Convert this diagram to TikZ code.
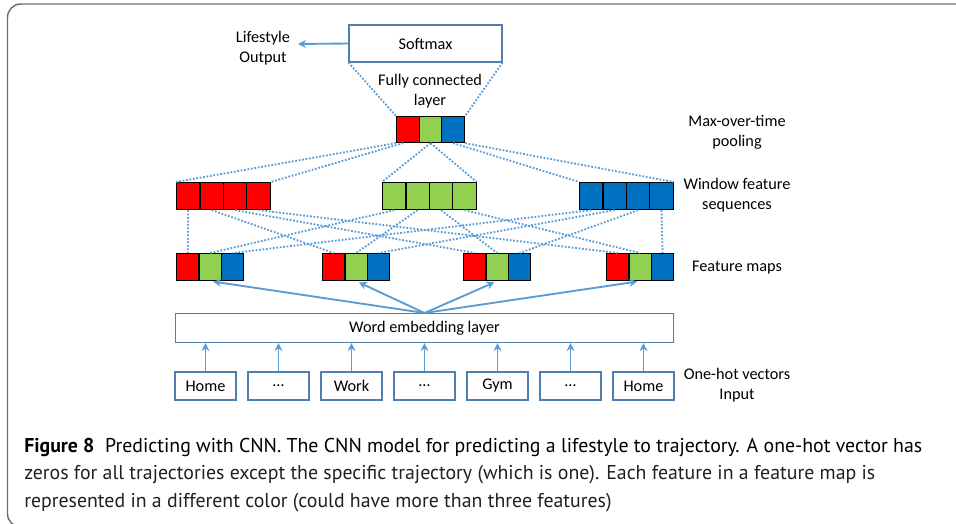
\documentclass[tikz,border=0pt]{standalone}
\usepackage{fontspec}
\usepackage{graphicx}
\setmainfont{Carlito}
\newfontfamily\capfont{PT Sans}
\usetikzlibrary{arrows.meta,calc}
\definecolor{cred}{HTML}{FF0000}
\definecolor{cgreen}{HTML}{92D050}
\definecolor{cblue}{HTML}{0070C0}
\definecolor{conn}{HTML}{5B9BD5}
\definecolor{boxb}{HTML}{4F7FB0}
\definecolor{framec}{HTML}{6E6E6E}
\definecolor{captext}{HTML}{231F20}
\newsavebox\caponebox
\newlength\caponelen
\tikzset{
  lbl/.style={font=\fontsize{12.2}{15}\selectfont, align=center, inner sep=0pt},
  cellA/.style={draw=black, line width=0.85pt, inner sep=0pt, anchor=north west},
  fmcell/.style={cellA, minimum width=16.8pt, minimum height=20.25pt},
  wcell/.style={cellA, minimum width=17.55pt, minimum height=20.25pt},
  pcell/.style={cellA, minimum width=17pt, minimum height=19.5pt},
  wbox/.style={draw=boxb, line width=0.8pt, inner sep=0pt, font=\fontsize{12.2}{15}\selectfont},
  dots/.style={conn, line width=1.4pt, dash pattern=on 1.3pt off 1.3pt},
  arr/.style={conn, line width=1.4pt, -{Stealth[length=6pt,width=6pt]}},
  capline/.style={anchor=base west, inner sep=0pt, text=captext}
}
\begin{document}
\sbox\caponebox{\capfont\fontsize{15}{21}\selectfont\textbf{Figure 8}\hspace{0.55em}Predicting with CNN. The CNN model for predicting a lifestyle to trajectory. A one-hot vector has}%
\setlength\caponelen{\wd\caponebox}%
\pgfmathsetmacro\capsf{673.5/\caponelen}%
\begin{tikzpicture}[x=0.75pt,y=-0.75pt]
\useasboundingbox (0,0) rectangle (956,524);
% frame
\draw[framec, line width=1.1pt, rounded corners=10pt] (970,4) -- (7.5,4) -- (7.5,527) -- (970,527);

% softmax and output
\node[wbox, minimum width=114.75pt, minimum height=27.75pt] (sm) at (425.5,43.5) {Softmax};
\node[lbl] (out) at (263,48) {Lifestyle\\Output};
\coordinate (lo) at (298,44);
\draw[arr] (sm.west) -- (lo);
\node[lbl] (fc) at (430,91) {Fully connected\\layer};

% pooling cells
\foreach \c [count=\i] in {cred,cgreen,cblue}
  \node[pcell, fill=\c] (p\i) at ({396+(\i-1)*22.67},116) {};

% window feature sequences
\foreach \c/\x [count=\i] in {cred/176,cgreen/382,cblue/579}
  \foreach \j in {1,...,4}
    \node[wcell, fill=\c] (w\i-\j) at ({\x+(\j-1)*23.4},182) {};

% feature maps
\foreach \x [count=\j] in {176,322,463,606}
  \foreach \c [count=\i] in {cred,cgreen,cblue}
    \node[fmcell, fill=\c] (f\j-\i) at ({\x+(\i-1)*22.4},253) {};

% word embedding
\node[wbox, anchor=north west, minimum width=373.5pt, minimum height=21.75pt] (emb) at (175,313) {Word embedding layer};

% inputs
\foreach \t [count=\k] in {Home,…,Work,…,Gym,…,Home}
  \node[wbox, minimum width=45.75pt, minimum height=21pt] (in\k) at ({205.5+(\k-1)*73},386) {\t};

% right labels
\node[lbl] (lmax) at (737,132) {Max-over-time\\pooling};
\node[lbl] (lwin) at (737,195.5) {Window feature\\sequences};
\node[lbl] (lfm) at (737,268) {Feature maps};
\node[lbl] (lin) at (737,385) {One-hot vectors\\Input};

% softmax to pooling
\draw[dots] (sm.south west) -- (p1.north west);
\draw[dots] (sm.south east) -- (p3.north east);

% pooling to windows
\draw[dots] (p1.south west) -- (w1-1.north west);
\draw[dots] ($(p1.south west)!0.3!(p1.south east)$) -- (w1-4.north east);
\draw[dots] (p2.south) -- (w2-1.north west);
\draw[dots] (p2.south) -- (w2-4.north east);
\draw[dots] (p3.south) -- (w3-1.north west);
\draw[dots] (p3.south east) -- (w3-4.north east);

% windows to feature maps
\foreach \i in {1,2,3}
  \foreach \j in {1,...,4}
    \draw[dots] (w\i-\j.south) -- (f\j-\i.north);

% embedding to feature maps
\foreach \j in {1,...,4}
  \draw[arr, shorten >=2.25pt] (emb.north) -- (f\j-2.south);

% inputs to embedding
\foreach \k in {1,...,7}
  \draw[arr] (in\k.north) -- (in\k.north |- emb.south);

% caption
\node[capline] (cap1) at (24,452) {\scalebox{\capsf}[1]{\usebox\caponebox}};
\node[capline] (cap2) at (24,479.5) {\scalebox{\capsf}[1]{\capfont\fontsize{15}{21}\selectfont zeros for all trajectories except the specific trajectory (which is one). Each feature in a feature map is}};
\node[capline] (cap3) at (24,507) {\scalebox{\capsf}[1]{\capfont\fontsize{15}{21}\selectfont represented in a different color (could have more than three features)}};
\end{tikzpicture}
\end{document}
